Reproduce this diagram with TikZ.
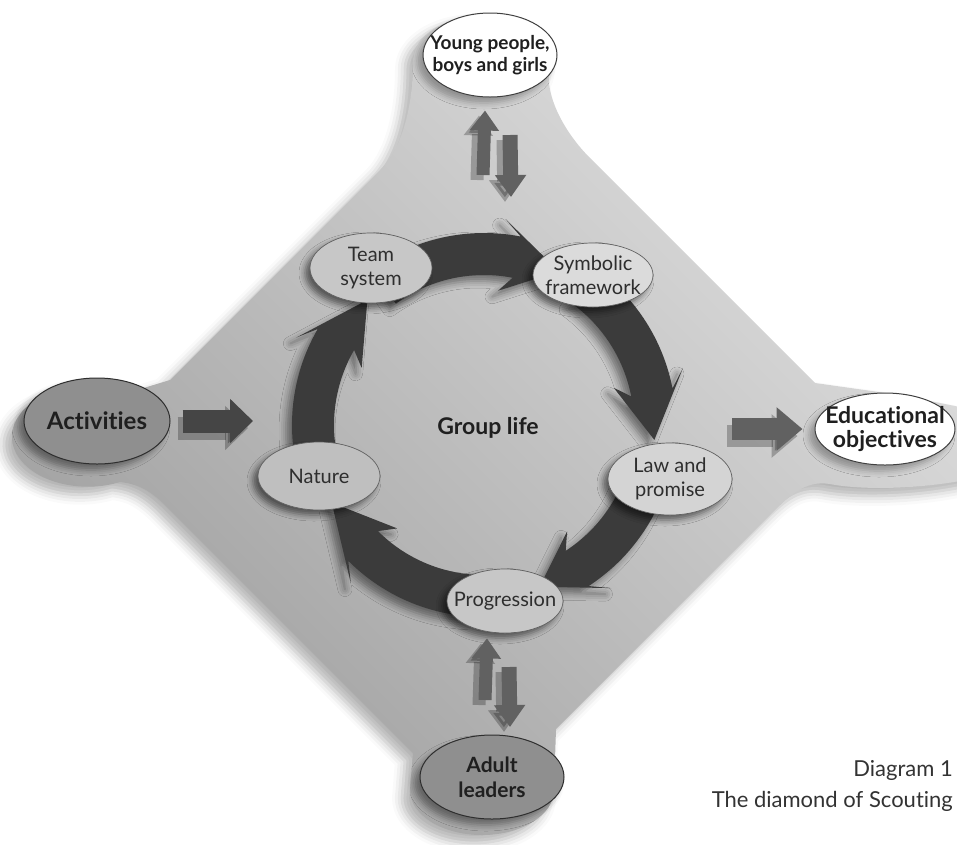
\documentclass[tikz,border=0pt]{standalone}
\usepackage{fontspec}
\setmainfont{Lato}[Ligatures=NoCommon]
\usetikzlibrary{shapes.geometric,arrows.meta,shadows.blur}
\begin{document}
\begin{tikzpicture}[x=1pt,y=-1pt,
  ringnode/.style={ellipse, draw=black!62, line width=0.7pt, fill=black!22, inner sep=0pt,
    blur shadow={shadow xshift=-5pt, shadow yshift=-5pt, shadow blur radius=6pt, shadow opacity=55}},
  termdark/.style={ellipse, draw=black!82, line width=1pt, fill=black!44, inner sep=0pt,
    blur shadow={shadow xshift=-6pt, shadow yshift=-6pt, shadow blur radius=6pt, shadow opacity=40}},
  termwhite/.style={ellipse, draw=black!75, line width=1pt, fill=white, inner sep=0pt,
    blur shadow={shadow xshift=-6pt, shadow yshift=-6pt, shadow blur radius=6pt, shadow opacity=30}},
  lbl/.style={align=center, text=black!82, inner sep=0pt, font=\fontsize{20}{24.5}\selectfont},
  blbl/.style={align=center, text=black!88, inner sep=0pt},
  ringarrow/.style={fill=black!77,
    blur shadow={shadow xshift=-6pt, shadow yshift=-6pt, shadow blur radius=7pt, shadow opacity=45}},
  updown/.style={line width=13pt, draw=black!62, -{Triangle[length=20pt,width=28pt]}},
  downup/.style={line width=15pt, draw=black!62, -{Triangle[length=22pt,width=30pt]}},
  shadowcopy/.style={draw=black, opacity=0.25},
  blockA/.style={line width=23pt, draw=black!73, -{Triangle[length=23pt,width=43pt]}},
  blockE/.style={line width=22pt, draw=black!62, -{Triangle[length=26pt,width=42pt]}},
  captext/.style={anchor=base east, inner sep=0pt, text=black!80, font=\fontsize{22}{27}\selectfont}
]
\useasboundingbox (0,0) rectangle (957,844);

% ---- diamond plate with its four lobes ----
\path[blur shadow={shadow xshift=-8pt, shadow yshift=-8pt, shadow blur radius=10pt, shadow opacity=30},
      top color=black!12, bottom color=black!38, shading angle=-45]
  (380,170) .. controls (405,145) and (413,100) .. (413,61)
  arc[start angle=180, end angle=380, x radius=70, y radius=45]
  .. controls (548,100) and (565,133) .. (590,158)
  -- (815,383) -- (900,395) -- (975,410) -- (975,478)
  .. controls (920,490) and (860,490) .. (830,484)
  .. controls (805,480) and (790,495) .. (768,517)
  -- (556,729) -- (554,790)
  arc[start angle=0, end angle=180, x radius=72, y radius=45]
  -- (413,753) -- (167,507)
  .. controls (150,490) and (138,484) .. (120,482)
  arc[start angle=65, end angle=300, x radius=76, y radius=50]
  -- (170,380) -- cycle;

% ---- ring of arrows ----
\begin{scope}[shift={(484,425)}]
  \foreach \a/\b/\t in {-126/-79/-64, -54/-11/5, 17/57/71, 83/135/153, 163/210/227}{
    \fill[ringarrow] (\a:192) arc[start angle=\a, end angle=\b, radius=192]
      -- ({\b-5}:207) -- (\t:171) -- ({\b-5}:135) -- (\b:150)
      arc[start angle=\b, end angle=\a, radius=150] -- cycle;
  }
\end{scope}

% ---- nodes ----
\node[termwhite, minimum width=134pt, minimum height=84pt,
  label={[blbl, font=\bfseries\fontsize{19}{22}\selectfont]center:{Young people,\\boys and girls}}] (young) at (490,55) {};
\node[termdark, minimum width=146pt, minimum height=86pt,
  label={[blbl, font=\bfseries\fontsize{24}{28}\selectfont]center:{Activities}}] (act) at (97,421) {};
\node[termwhite, minimum width=140pt, minimum height=72pt,
  label={[blbl, font=\bfseries\fontsize{23}{23.5}\selectfont]center:{Educational\\objectives}}] (edu) at (885,429) {};
\node[termdark, minimum width=144pt, minimum height=84pt,
  label={[blbl, font=\bfseries\fontsize{21}{25}\selectfont]center:{Adult\\leaders}}] (adult) at (492,777) {};

\node[ringnode, minimum width=122pt, minimum height=70pt, label={[lbl]center:{Team\\system}}] (team) at (371,268) {};
\node[ringnode, fill=black!14, minimum width=120pt, minimum height=64pt, label={[lbl]center:{Symbolic\\framework}}] (symb) at (593,275) {};
\node[ringnode, fill=black!17, minimum width=124pt, minimum height=72pt, label={[lbl]center:{Law and\\promise}}] (law) at (670,479) {};
\node[ringnode, minimum width=116pt, minimum height=64pt, label={[lbl]center:{Progression}}] (prog) at (505,601) {};
\node[ringnode, fill=black!25, minimum width=122pt, minimum height=68pt, label={[lbl]center:{Nature}}] (nature) at (319,476) {};

\node[blbl, font=\bfseries\fontsize{23}{27}\selectfont] (group) at (488,428) {Group life};

% ---- arrows ----
\coordinate (tu1) at (483,175);
\coordinate (td1) at (510,135);
\coordinate (td2) at (511,197);
\coordinate (bu1) at (485,700);
\coordinate (bd1) at (509,667);
\coordinate (bd2) at (510,727);
\coordinate (actin) at (253,421);
\coordinate (eduout) at (732,429);

\begin{scope}[transform canvas={shift={(-6pt,-5pt)}}]
  \draw[updown, shadowcopy] (tu1) -- ([xshift=-5pt,yshift=-13pt]young.south);
  \draw[downup, shadowcopy] (td1) -- (td2);
  \draw[updown, shadowcopy] (bu1) -- ([xshift=-18pt,yshift=-5pt]prog.south);
  \draw[downup, shadowcopy] (bd1) -- (bd2);
\end{scope}
\draw[updown] (tu1) -- ([xshift=-5pt,yshift=-13pt]young.south);
\draw[downup] (td1) -- (td2);
\draw[updown] (bu1) -- ([xshift=-18pt,yshift=-5pt]prog.south);
\draw[downup] (bd1) -- (bd2);

\begin{scope}[transform canvas={shift={(-5pt,-7pt)}}]
  \draw[blockA, shadowcopy] ([xshift=12pt]act.east) -- (actin);
  \draw[blockE, shadowcopy] (eduout) -- ([xshift=-12pt]edu.west);
\end{scope}
\draw[blockA] ([xshift=12pt]act.east) -- (actin);
\draw[blockE] (eduout) -- ([xshift=-12pt]edu.west);

% ---- caption ----
\node[captext] (cap1) at (953,776) {Diagram 1};
\node[captext] (cap2) at (953,807) {The diamond of Scouting};
\end{tikzpicture}
\end{document}
